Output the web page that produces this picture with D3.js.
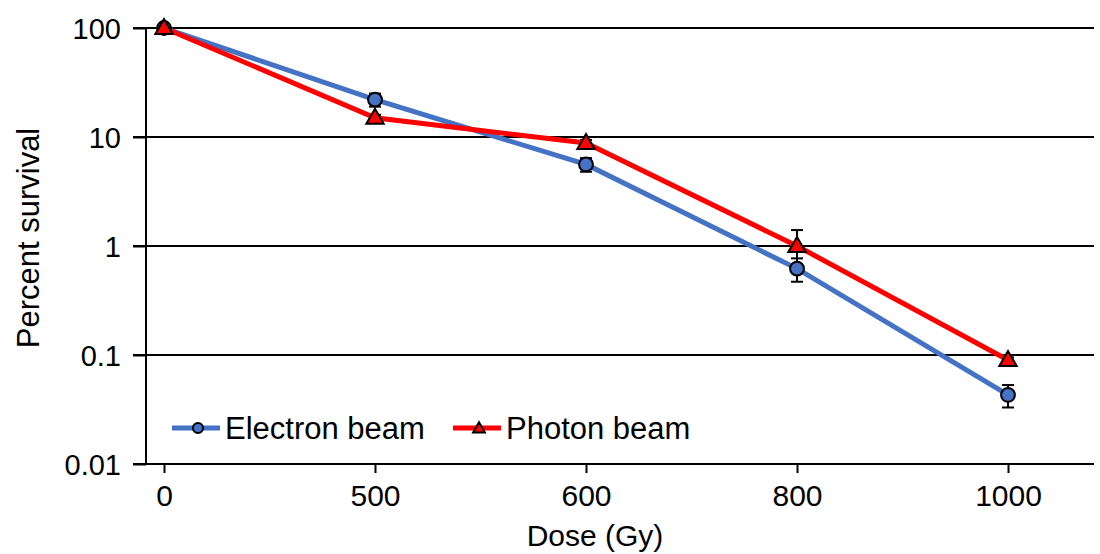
<!DOCTYPE html>
<html>
<head>
<meta charset="utf-8">
<script src="https://cdn.jsdelivr.net/npm/d3@7"></script>
<style>
  body { margin: 0; background: #fff; }
  svg text { font-family: "Liberation Sans", Arial, sans-serif; fill: #000; }
</style>
</head>
<body>
<svg id="chart" width="1100" height="554"></svg>
<script>
// data
var doses = ["0", "500", "600", "800", "1000"];
var electron = [100, 22, 5.6, 0.62, 0.043];
var electronErr = [2, 3, 0.8, 0.15, 0.01];
var photon = [100, 15, 8.8, 1.0, 0.09];
var photonErr = [2, 1, 0.6, 0.4, 0.005];
var yTicks = [0.01, 0.1, 1, 10, 100];
var yTickLabels = ["0.01", "0.1", "1", "10", "100"];

var svg = d3.select("#chart");

var plotLeft = 146, plotRight = 1094, plotTop = 28, plotBottom = 464;

var x = d3.scalePoint().domain(doses).range([164, 1008]);
var y = d3.scaleLog().domain([0.01, 100]).range([plotBottom, plotTop]);

//gridlines
svg.append("g").selectAll("line")
    .data(yTicks)
    .enter().append("line")
    .attr("x1", plotLeft - 13)
    .attr("x2", plotRight)
    .attr("y1", function (d) { return y(d); })
    .attr("y2", function (d) { return y(d); })
    .attr("stroke", "#000")
    .attr("stroke-width", 2);

//y axis
var yAxis = d3.axisLeft(y)
    .tickValues(yTicks)
    .tickFormat(function (d, i) { return yTickLabels[i]; })
    .tickSize(13)
    .tickPadding(12);
var gy = svg.append("g")
    .attr("transform", "translate(" + plotLeft + ",0)")
    .call(yAxis);
gy.select(".domain").attr("stroke", "#000").attr("stroke-width", 2)
    .attr("d", "M0," + plotTop + "V" + plotBottom);
gy.selectAll(".tick line").attr("stroke", "#000").attr("stroke-width", 2);
gy.selectAll("text").style("font-size", "29px").attr("dy", "0.35em");

//x axis
var xAxis = d3.axisBottom(x)
    .tickSizeInner(9)
    .tickSizeOuter(0)
    .tickPadding(12);
var gx = svg.append("g")
    .attr("transform", "translate(0," + plotBottom + ")")
    .call(xAxis);
gx.select(".domain").attr("stroke", "#000").attr("stroke-width", 2)
    .attr("d", "M" + (plotLeft - 13) + ",0H" + plotRight);
gx.selectAll(".tick line").attr("stroke", "#000").attr("stroke-width", 2);
gx.selectAll("text").style("font-size", "30px").attr("dy", "0.71em");

//axis titles
svg.append("text")
    .attr("text-anchor", "middle")
    .attr("transform", "translate(39,238)rotate(-90)")
    .style("font-size", "31px")
    .text("Percent survival");
svg.append("text")
    .attr("text-anchor", "middle")
    .attr("x", 595)
    .attr("y", 546)
    .style("font-size", "30px")
    .text("Dose (Gy)");

var series = [
  {name: "Electron beam", values: electron, err: electronErr, color: "#4472C4", shape: "circle"},
  {name: "Photon beam", values: photon, err: photonErr, color: "#FF0000", shape: "triangle"}
];

//error bars
series.forEach(function (s) {
  var g = svg.append("g");
  s.values.forEach(function (v, i) {
    var cx = x(doses[i]);
    var y1 = y(v + s.err[i]), y2 = y(Math.max(v - s.err[i], 1e-4));
    g.append("line").attr("x1", cx).attr("x2", cx).attr("y1", y1).attr("y2", y2)
        .attr("stroke", "#000").attr("stroke-width", 2);
    [y1, y2].forEach(function (yy) {
      g.append("line").attr("x1", cx - 6).attr("x2", cx + 6).attr("y1", yy).attr("y2", yy)
          .attr("stroke", "#000").attr("stroke-width", 2);
    });
  });
});

//lines
var line = d3.line()
    .x(function (d, i) { return x(doses[i]); })
    .y(function (d) { return y(d); });
series.forEach(function (s) {
  svg.append("path")
      .datum(s.values)
      .attr("d", line)
      .attr("fill", "none")
      .attr("stroke", s.color)
      .attr("stroke-width", 5);
});

var circleSym = d3.symbol().type(d3.symbolCircle);
var triSym = d3.symbol().type(d3.symbolTriangle);

//markers
series.forEach(function (s) {
  svg.append("g").selectAll("path")
      .data(s.values)
      .enter().append("path")
      .attr("transform", function (d, i) {
        return "translate(" + x(doses[i]) + "," + (y(d) + (s.shape == "triangle" ? 1 : 0)) + ")";
      })
      .attr("d", s.shape == "circle" ? circleSym.size(150)() : triSym.size(130)())
      .attr("fill", s.color)
      .attr("stroke", "#000")
      .attr("stroke-width", 2);
});

//legend
var legendX = [172, 453];
series.forEach(function (s, i) {
  var g = svg.append("g").attr("transform", "translate(" + legendX[i] + ",428)");
  g.append("line").attr("x1", 0).attr("x2", 48).attr("y1", 0).attr("y2", 0)
      .attr("stroke", s.color).attr("stroke-width", 5);
  g.append("path")
      .attr("transform", "translate(26," + (s.shape == "triangle" ? 1 : 0) + ")")
      .attr("d", s.shape == "circle" ? circleSym.size(80)() : triSym.size(60)())
      .attr("fill", s.color)
      .attr("stroke", "#000")
      .attr("stroke-width", 2);
  g.append("text")
      .attr("x", 53)
      .attr("y", 0)
      .attr("dy", "0.35em")
      .style("font-size", "31px")
      .text(s.name);
});
</script>
</body>
</html>
